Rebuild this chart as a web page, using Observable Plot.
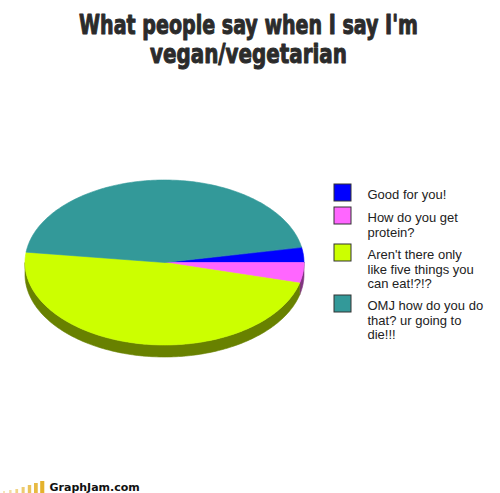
<!DOCTYPE html>
<html><head><meta charset="utf-8">
<script src="https://cdn.jsdelivr.net/npm/d3@7"></script>
<script src="https://cdn.jsdelivr.net/npm/@observablehq/plot@0.6"></script>
<style>html,body{margin:0;padding:0;background:#fff;} svg{display:block}</style>
</head><body><div id="chart"></div>
<script>
// ---- data ----
const titleLines = ["What people say when I say I'm", "vegan/vegetarian"];
const categories = [
  "Good for you!",
  "How do you get\nprotein?",
  "Aren't there only\nlike five things you\ncan eat!?!?",
  "OMJ how do you do\nthat? ur going to\ndie!!!"
];
const values = [3, 4, 48, 45];
const colors = ["#0000ff", "#ff66ff", "#ccff00", "#339999"];
const footerText = "GraphJam.com";
const logoBars = [2, 3, 4, 6, 8, 10, 12];

// ---- layout ----
const W = 500, H = 493;
const cx = 164, cy = 262, rx = 139.5, ry = 82.5, depth = 12;
const total = d3.sum(values);
let acc = -2 * Math.PI * values[0] / total;
const slices = values.map((v, i) => { const a0 = acc; acc += 2 * Math.PI * v / total; return {i, a0, a1: acc, color: colors[i]}; });

function arc(a0, a1, dy = 0) {
  const n = Math.max(2, Math.ceil((a1 - a0) / (Math.PI / 180)));
  return d3.range(n + 1).map(k => { const t = a0 + (a1 - a0) * k / n; return {x: cx + rx * Math.cos(t), y: cy + ry * Math.sin(t) + dy}; });
}

const marks = [];
// side walls (front half only)
for (const s of slices) {
  const lo = Math.max(s.a0, 0), hi = Math.min(s.a1, Math.PI);
  if (hi > lo) {
    const pts = [...arc(lo, hi), ...arc(lo, hi, depth).reverse()];
    const c = d3.color(s.color).darker(1.9).formatHex();
    marks.push(Plot.line(pts, {x: "x", y: "y", fill: c, stroke: c, strokeWidth: 0.6, curve: "linear-closed"}));
  }
}
// top faces
for (const s of slices) {
  const pts = [{x: cx, y: cy}, ...arc(s.a0, s.a1)];
  marks.push(Plot.line(pts, {x: "x", y: "y", fill: s.color, stroke: s.color, strokeWidth: 0.6, curve: "linear-closed"}));
}

// legend
let legTop = 184;
const legend = categories.map((label, i) => {
  const d = {label, color: colors[i], top: legTop};
  legTop += 9 + 14 * label.split("\n").length;
  return d;
});
marks.push(Plot.rect(legend, {x1: 334, x2: 351, y1: "top", y2: d => d.top + 17, fill: "color", stroke: "#333", strokeWidth: 1}));
marks.push(Plot.text(legend, {x: 367, y: d => d.top + 4.8, text: "label", textAnchor: "start", lineAnchor: "top", lineHeight: 1.095, fontSize: 13, fontFamily: "Liberation Sans, Arial, sans-serif", fill: "#222"}));

// title
const titleX = 248;
marks.push(Plot.text(titleLines, {x: titleX, y: (d, i) => 33 + i * 29, text: d => d, textAnchor: "middle", lineAnchor: "bottom", fontSize: 27, fontWeight: "bold", fontFamily: "'DejaVu Sans Condensed', 'DejaVu Sans', sans-serif", fill: "#2b2b2b", stroke: "#2b2b2b", strokeWidth: 1}));

// footer
marks.push(Plot.rect(logoBars, {x1: (d, i) => 3 + i * 6.2, x2: (d, i) => 5 + i * 6.55, y1: d => H - d, y2: H, fill: "#e4b22c", fillOpacity: (d, i) => 0.35 + i * 0.11}));
marks.push(Plot.text([footerText], {x: 49, y: 490, text: d => d, textAnchor: "start", lineAnchor: "bottom", fontSize: 11, fontWeight: "bold", fontFamily: "'DejaVu Sans', sans-serif", fill: "#111"}));

const chart = Plot.plot({
  width: W, height: H, margin: 0,
  x: {type: "identity", axis: null},
  y: {type: "identity", axis: null},
  color: {type: "identity"},
  style: {background: "#fff", fontFamily: "Liberation Sans, Arial, sans-serif"},
  marks
});
document.getElementById("chart").appendChild(chart);

// condense title lines horizontally to the reference widths
const widths = [339, 197];
chart.querySelectorAll("text").forEach(t => {
  const k = titleLines.indexOf(t.textContent);
  if (k >= 0) {
    const L = t.getComputedTextLength();
    const s = widths[k] / L;
    const g = document.createElementNS("http://www.w3.org/2000/svg", "g");
    g.setAttribute("transform", `translate(${titleX},0) scale(${s},1) translate(${-titleX},0)`);
    t.parentNode.insertBefore(g, t);
    g.appendChild(t);
  }
});
</script>
</body></html>
